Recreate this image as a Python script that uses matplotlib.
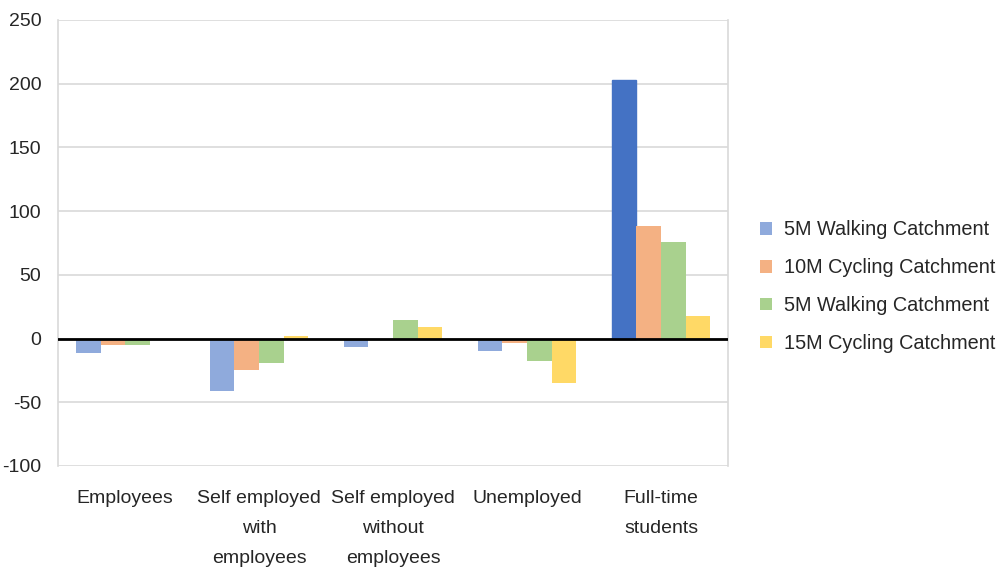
import numpy as np
import matplotlib.pyplot as plt

categories = ['Employees', 'Self employed\nwith\nemployees', 'Self employed\nwithout\nemployees',
              'Unemployed', 'Full-time\nstudents']
series_names = ['5M Walking Catchment', '10M Cycling Catchment', '5M Walking Catchment', '15M Cycling Catchment']
walk_5m = [-11.5, -41, -7, -10, 202.5]
cycle_10m = [-5, -24.5, 0, -3.5, 88]
walk_5m_b = [-5, -19, 14.7, -18, 76]
cycle_15m = [0, 2, 9.4, -35, 17.3]

colors = ['#8faadc', '#f4b183', '#a9d18e', '#ffd966']
highlight = '#4472c4'

plt.rcParams['font.family'] = ['Liberation Sans', 'DejaVu Sans']
plt.rcParams['axes.unicode_minus'] = False
text_color = '#262626'

fig = plt.figure(figsize=(9.97, 5.70), dpi=100)
ax = fig.add_axes([0.0582, 0.1825, 0.672, 0.7825])

x = np.arange(len(categories))
w = 0.183
all_series = [walk_5m, cycle_10m, walk_5m_b, cycle_15m]
for i, vals in enumerate(all_series):
    bars = ax.bar(x + (i - 1.5) * w, vals, w, color=colors[i], label=series_names[i], zorder=3)
    if i == 0:
        # the full-time students bar is drawn in the darker blue
        bars[4].set_color(highlight)

ax.axhline(0, color='black', linewidth=2, zorder=4)
ax.set_ylim(-100, 250)
ax.set_yticks(range(-100, 251, 50))
ax.set_xlim(-0.5, len(categories) - 0.5)
ax.set_xticks(x)
ax.set_xticklabels(categories, linespacing=2.02, va='top')
ax.grid(axis='y', color='#d9d9d9', linewidth=1.2, zorder=0)
for side in ['top', 'bottom']:
    ax.spines[side].set_visible(False)
for side in ['left', 'right']:
    ax.spines[side].set_color('#d9d9d9')
    ax.spines[side].set_linewidth(1.2)
ax.tick_params(axis='both', length=0, labelsize=14, colors=text_color)
ax.tick_params(axis='x', pad=17)
ax.tick_params(axis='y', pad=12)

handles, labels = ax.get_legend_handles_labels()
fig.legend(handles, labels, loc='center left', bbox_to_anchor=(0.762, 0.497), frameon=False, fontsize=14.3,
           handlelength=0.6, handleheight=0.6, handletextpad=0.6, labelspacing=0.95,
           labelcolor=text_color, borderaxespad=0, borderpad=0)

plt.savefig('out.png', dpi=100)
